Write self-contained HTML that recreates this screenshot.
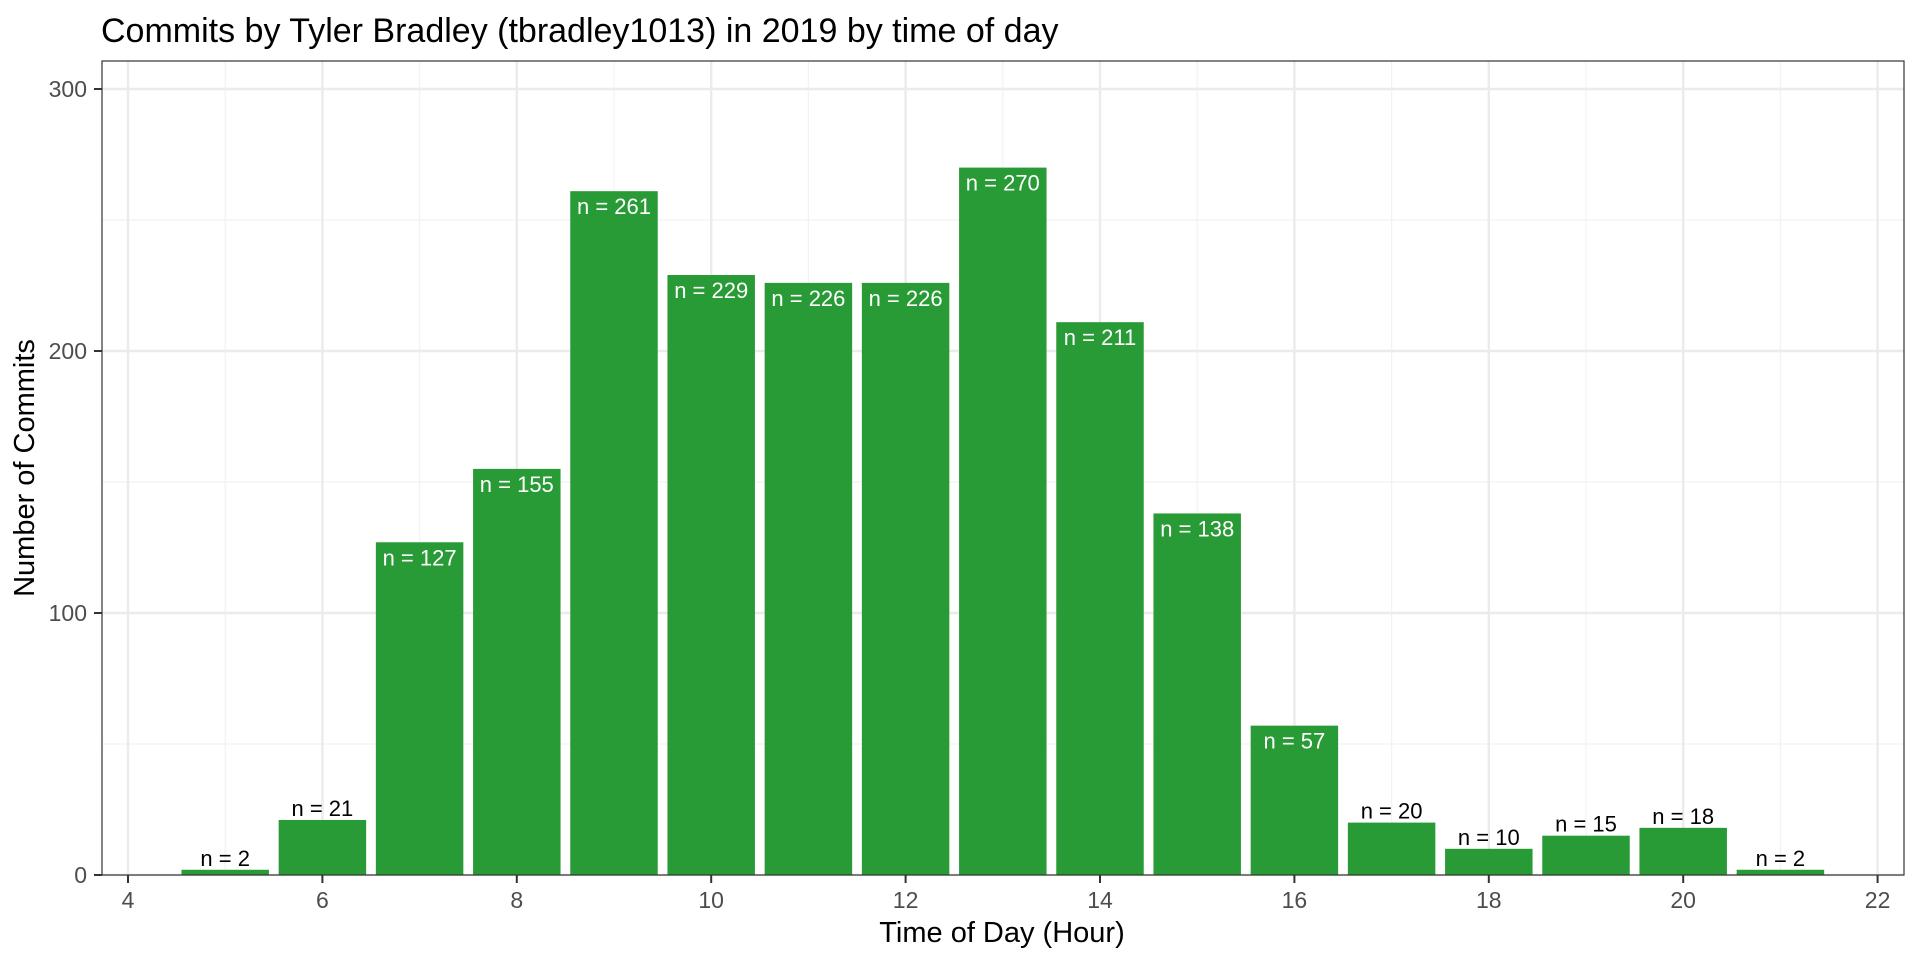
<!DOCTYPE html>
<html><head><meta charset="utf-8"><style>
body{margin:0;background:#fff;}
svg text{font-family:"Liberation Sans",Arial,sans-serif;}
</style></head><body>
<svg id="chart" width="1920" height="960" xmlns="http://www.w3.org/2000/svg">
<rect x="0" y="0" width="1920" height="960" fill="#fff"/>
<text x="101" y="42" font-size="34" fill="#000">Commits by Tyler Bradley (tbradley1013) in 2019 by time of day</text>
<g id="grid"></g>
<g id="bars"></g>
<g id="labels"></g>
<rect x="102" y="61" width="1802" height="814" fill="none" stroke="#333" stroke-width="1.2"/>
<g id="axes"></g>
<text x="1002" y="942" font-size="29" text-anchor="middle" fill="#000">Time of Day (Hour)</text>
<text transform="translate(34,468) rotate(-90)" font-size="29" text-anchor="middle" fill="#000">Number of Commits</text>
</svg>
<script>
const hours = [5,6,7,8,9,10,11,12,13,14,15,16,17,18,19,20,21];
const commits = [2,21,127,155,261,229,226,226,270,211,138,57,20,10,15,18,2];
const xTicks = [4,6,8,10,12,14,16,18,20,22];
const yTicks = [0,100,200,300];

const NS="http://www.w3.org/2000/svg";
const X0=128, XU=97.2, Y0=875, YU=2.62, L=102, R=1904, T=61;
const xs = v => X0 + (v-4)*XU;
const ys = v => Y0 - v*YU;
function mk(tag, attrs, parent){const e=document.createElementNS(NS,tag);for(const k in attrs)e.setAttribute(k,attrs[k]);parent.appendChild(e);return e;}
const grid=document.getElementById('grid'), bars=document.getElementById('bars'), labels=document.getElementById('labels'), axes=document.getElementById('axes');

for(let v=50; v<=300; v+=100){
  const l=mk('line',{x1:L,x2:R,y1:ys(v),y2:ys(v),stroke:'#f2f2f2','stroke-width':1.2},grid);
  
  
}
for(let v=5; v<=21; v+=2){
  const l=mk('line',{x1:xs(v),x2:xs(v),y1:T,y2:Y0,stroke:'#f2f2f2','stroke-width':1.2},grid);
  
  
}
yTicks.forEach(v=>{
  const l=mk('line',{x1:L,x2:R,y1:ys(v),y2:ys(v),stroke:'#ebebeb','stroke-width':2.4},grid);
  
  
  const t=mk('line',{x1:L-8,x2:L,y1:ys(v),y2:ys(v),stroke:'#333','stroke-width':2},axes);
  
  
  const tx=mk('text',{x:L-15,y:ys(v)+8,'font-size':23,'text-anchor':'end',fill:'#4d4d4d'},axes);
  tx.textContent=v;
  
  
});
xTicks.forEach(v=>{
  const l=mk('line',{x1:xs(v),x2:xs(v),y1:T,y2:Y0,stroke:'#ebebeb','stroke-width':2.4},grid);
  
  
  const t=mk('line',{x1:xs(v),x2:xs(v),y1:Y0,y2:Y0+8,stroke:'#333','stroke-width':2},axes);
  
  
  const tx=mk('text',{x:xs(v),y:Y0+33,'font-size':23,'text-anchor':'middle',fill:'#4d4d4d'},axes);
  tx.textContent=v;
  
  
});
hours.forEach((h,i)=>{
  const v=commits[i], w=0.9*XU;
  const b=mk('rect',{x:xs(h)-w/2,y:ys(v),width:w,height:v*YU,fill:'#299b36'},bars);
  
  
  const inside = v>40;
  const t=mk('text',{x:xs(h),y:inside?ys(v)+23:ys(v)-4,'font-size':22,'text-anchor':'middle',fill:inside?'#fff':'#000'},labels);
  t.textContent='n = '+v;
  
  
});
</script>
</body></html>
